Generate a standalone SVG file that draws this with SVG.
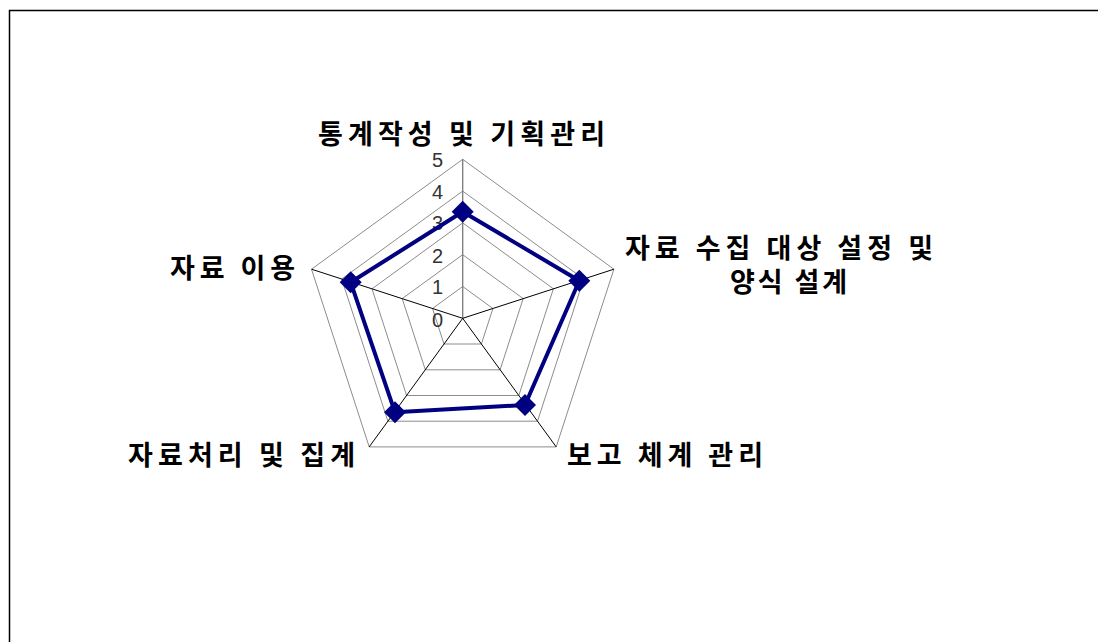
<svg xmlns="http://www.w3.org/2000/svg" width="1098" height="642" viewBox="0 0 1098 642">
<style>
.lbl{font-family:"Noto Sans CJK KR","Noto Sans",sans-serif;font-size:27px;font-weight:bold;fill:#000}
.tick{font-family:"Liberation Sans","DejaVu Sans",sans-serif;font-size:20px;fill:#333;text-anchor:end}
.ring{fill:none;stroke:#8c8c8c;stroke-width:1}
.spoke{stroke:#000;stroke-width:1}
.series{fill:none;stroke:#000080;stroke-width:4;stroke-linejoin:round}
.mk{fill:#000080}
</style>
<defs>
<path id="dia" d="M0,-11 L11,0 L0,11 L-11,0 Z" class="mk"/>
</defs>
<rect width="1098" height="642" fill="#fff"/>
<path d="M9.5,642 L9.5,10.5 L1098,10.5" fill="none" stroke="#000" stroke-width="1.5"/>
<g id="grid">
<polygon class="ring" points="462.7,286.5 492.9,308.5 481.4,344.0 444.0,344.0 432.5,308.5"/>
<polygon class="ring" points="462.7,254.7 523.2,298.6 500.1,369.8 425.3,369.8 402.2,298.6"/>
<polygon class="ring" points="462.7,222.9 553.4,288.8 518.8,395.5 406.6,395.5 372.0,288.8"/>
<polygon class="ring" points="462.7,191.1 583.7,279.0 537.5,421.2 387.9,421.2 341.7,279.0"/>
<polygon class="ring" points="462.7,159.3 613.9,269.2 556.2,446.9 369.2,446.9 311.5,269.2"/>
<line x1="462.7" y1="318.3" x2="462.7" y2="159.3" stroke="#7a7a7a" stroke-width="1.3"/>
<line class="spoke" x1="462.7" y1="318.3" x2="613.9" y2="269.2"/>
<line class="spoke" x1="462.7" y1="318.3" x2="556.2" y2="446.9"/>
<line class="spoke" x1="462.7" y1="318.3" x2="369.2" y2="446.9"/>
<line class="spoke" x1="462.7" y1="318.3" x2="311.5" y2="269.2"/>
</g>
<g id="ticks">
<text class="tick" x="443" y="167">5</text>
<text class="tick" x="443" y="199">4</text>
<text class="tick" x="443" y="230">3</text>
<text class="tick" x="443" y="263">2</text>
<text class="tick" x="443" y="294">1</text>
<text class="tick" x="443" y="327">0</text>
</g>
<g id="series">
<polygon class="series" points="462.7,211.7 579.3,280.7 525,405 395,412.3 350.7,282.3"/>
<use href="#dia" x="462.7" y="211.7"/>
<use href="#dia" x="579.3" y="280.7"/>
<use href="#dia" x="525" y="405"/>
<use href="#dia" x="395" y="412.3"/>
<use href="#dia" x="350.7" y="282.3"/>
</g>
<g id="label-top"><text class="lbl" x="318" y="144" textLength="287" lengthAdjust="spacing">통계작성 및 기획관리</text></g>
<g id="label-right"><text class="lbl" x="625" y="258" textLength="308" lengthAdjust="spacing">자료 수집 대상 설정 및</text><text class="lbl" x="730" y="292" textLength="117" lengthAdjust="spacing">양식 설계</text></g>
<g id="label-bottom-right"><text class="lbl" x="567" y="465" textLength="196" lengthAdjust="spacing">보고 체계 관리</text></g>
<g id="label-bottom-left"><text class="lbl" x="128" y="465" textLength="227" lengthAdjust="spacing">자료처리 및 집계</text></g>
<g id="label-left"><text class="lbl" x="170" y="278" textLength="125" lengthAdjust="spacing">자료 이용</text></g>
</svg>
